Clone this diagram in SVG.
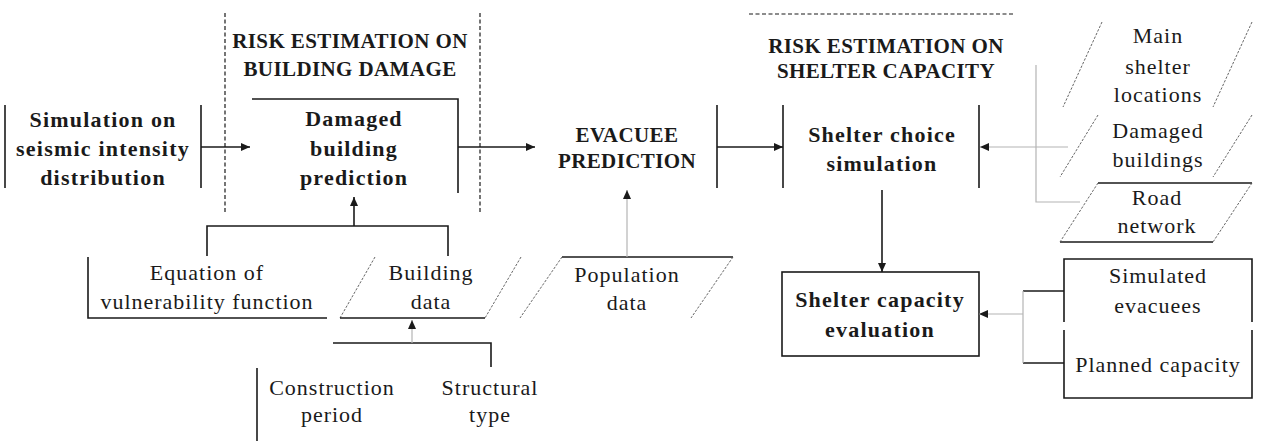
<svg xmlns="http://www.w3.org/2000/svg" width="1263" height="441" viewBox="0 0 1263 441">
  <style>
    text { font-family: "Liberation Serif", "Times New Roman", serif; fill: #1a1a1a; text-anchor: middle; }
    .h { font-size: 21px; font-weight: bold; letter-spacing: 0.4px; }
    .b { font-size: 22px; font-weight: bold; letter-spacing: 1.2px; }
    .r { font-size: 22px; letter-spacing: 1px; }
    .ln { fill: none; stroke: #1a1a1a; stroke-width: 1.6; }
    .lt { fill: none; stroke: #b4b4b4; stroke-width: 1.2; }
    .sl { fill: none; stroke: #555; stroke-width: 0.9; stroke-dasharray: 2.5 1.5; }
    .dv { fill: none; stroke: #1a1a1a; stroke-width: 1.2; stroke-dasharray: 4 2.5; }
  </style>
  <defs>
    <marker id="ah" markerUnits="userSpaceOnUse" markerWidth="9" markerHeight="8" refX="9" refY="4" orient="auto">
      <path d="M0,0 L9,4 L0,8 z" fill="#1a1a1a"/>
    </marker>
  </defs>

  <rect width="1263" height="441" fill="#ffffff"/>

  <!-- stage boundaries -->
  <g id="stage-bounds">
    <line class="dv" x1="225" y1="13" x2="225" y2="212"/>
    <line class="dv" x1="480" y1="13" x2="480" y2="212"/>
    <line class="dv" x1="749" y1="14" x2="1015" y2="14"/>
    <text class="h" x="350" y="48">RISK ESTIMATION ON</text>
    <text class="h" x="350" y="76">BUILDING DAMAGE</text>
    <text class="h" x="886" y="53">RISK ESTIMATION ON</text>
    <text class="h" x="886" y="78">SHELTER CAPACITY</text>
  </g>

  <g id="seismic-simulation">
    <line class="ln" x1="5" y1="105" x2="5" y2="188"/>
    <line class="ln" x1="201" y1="105" x2="201" y2="188"/>
    <text class="b" x="103" y="127">Simulation on</text>
    <text class="b" x="103" y="156">seismic intensity</text>
    <text class="b" x="103" y="185">distribution</text>
  </g>

  <g id="damaged-building-prediction">
    <polyline class="ln" points="252,99 458,99 458,193"/>
    <text class="b" x="354" y="126">Damaged</text>
    <text class="b" x="354" y="156">building</text>
    <text class="b" x="354" y="185">prediction</text>
  </g>

  <g id="evacuee-prediction">
    <line class="ln" x1="717" y1="105" x2="717" y2="188"/>
    <text class="h" x="627" y="142">EVACUEE</text>
    <text class="h" x="627" y="168">PREDICTION</text>
  </g>

  <g id="shelter-choice-simulation">
    <line class="ln" x1="783" y1="105" x2="783" y2="188"/>
    <line class="ln" x1="979" y1="105" x2="979" y2="188"/>
    <text class="b" x="882" y="142">Shelter choice</text>
    <text class="b" x="882" y="171">simulation</text>
  </g>

  <g id="shelter-capacity-evaluation">
    <rect class="ln" x="782" y="272" width="197" height="84"/>
    <text class="b" x="880" y="307">Shelter capacity</text>
    <text class="b" x="880" y="337">evaluation</text>
  </g>

  <g id="vulnerability-equation">
    <polyline class="ln" points="88,257 88,318 327,318"/>
    <text class="r" x="207" y="280">Equation of</text>
    <text class="r" x="207" y="309">vulnerability function</text>
  </g>

  <g id="building-data">
    <line class="sl" x1="375" y1="257" x2="340" y2="318"/>
    <line class="sl" x1="521" y1="257" x2="485" y2="318"/>
    <line class="ln" x1="340" y1="318" x2="485" y2="318"/>
    <text class="r" x="431" y="280">Building</text>
    <text class="r" x="431" y="309">data</text>
  </g>

  <g id="population-data">
    <line class="ln" x1="562" y1="257" x2="733" y2="257"/>
    <line class="sl" x1="562" y1="257" x2="520" y2="318"/>
    <line class="sl" x1="733" y1="257" x2="691" y2="318"/>
    <text class="r" x="627" y="282">Population</text>
    <text class="r" x="627" y="310">data</text>
  </g>

  <g id="construction-period">
    <line class="ln" x1="257" y1="368" x2="257" y2="441"/>
    <text class="r" x="332" y="395">Construction</text>
    <text class="r" x="332" y="422">period</text>
  </g>

  <g id="structural-type">
    <text class="r" x="490" y="395">Structural</text>
    <text class="r" x="490" y="422">type</text>
  </g>

  <g id="main-shelter-locations">
    <line class="sl" x1="1102" y1="22" x2="1063" y2="107"/>
    <line class="sl" x1="1252" y1="22" x2="1213" y2="107"/>
    <text class="r" x="1158" y="43">Main</text>
    <text class="r" x="1158" y="74">shelter</text>
    <text class="r" x="1158" y="102">locations</text>
  </g>

  <g id="damaged-buildings">
    <line class="sl" x1="1098" y1="115" x2="1060" y2="177"/>
    <line class="sl" x1="1252" y1="115" x2="1213" y2="177"/>
    <text class="r" x="1158" y="138">Damaged</text>
    <text class="r" x="1158" y="167">buildings</text>
  </g>

  <g id="road-network">
    <line class="ln" x1="1098" y1="183" x2="1252" y2="183"/>
    <line class="ln" x1="1060" y1="242" x2="1213" y2="242"/>
    <line class="sl" x1="1098" y1="183" x2="1060" y2="242"/>
    <line class="sl" x1="1252" y1="183" x2="1213" y2="242"/>
    <text class="r" x="1157" y="205">Road</text>
    <text class="r" x="1157" y="233">network</text>
  </g>

  <g id="simulated-evacuees">
    <polyline class="ln" points="1064,322 1064,259 1252,259 1252,322"/>
    <text class="r" x="1158" y="283">Simulated</text>
    <text class="r" x="1158" y="313">evacuees</text>
  </g>

  <g id="planned-capacity">
    <polyline class="ln" points="1064,330 1064,398 1252,398 1252,330"/>
    <text class="r" x="1158" y="372">Planned capacity</text>
  </g>

  <g id="connectors">
    <line class="ln" x1="201" y1="147" x2="250" y2="147" marker-end="url(#ah)"/>
    <line class="ln" x1="458" y1="147" x2="535" y2="147" marker-end="url(#ah)"/>
    <line class="ln" x1="717" y1="147" x2="783" y2="147" marker-end="url(#ah)"/>
    <line class="ln" x1="882" y1="190" x2="882" y2="272" marker-end="url(#ah)"/>

    <polyline class="ln" points="207,256 207,226 448,226 448,256"/>
    <line class="ln" x1="354" y1="226" x2="354" y2="197" marker-end="url(#ah)"/>

    <polyline class="ln" points="333,343 491,343 491,367"/>
    <line class="lt" x1="412" y1="343" x2="412" y2="320" marker-end="url(#ah)"/>

    <line class="lt" x1="627" y1="257" x2="627" y2="190" marker-end="url(#ah)"/>

    <polyline class="lt" points="1036,65 1036,202 1080,202"/>
    <line class="lt" x1="1068" y1="147" x2="980" y2="147" marker-end="url(#ah)"/>

    <line class="ln" x1="1023" y1="291" x2="1064" y2="291"/>
    <line class="ln" x1="1023" y1="363" x2="1064" y2="363"/>
    <line class="lt" x1="1023" y1="291" x2="1023" y2="363"/>
    <line class="lt" x1="1023" y1="314" x2="979" y2="314" marker-end="url(#ah)"/>
  </g>
</svg>
